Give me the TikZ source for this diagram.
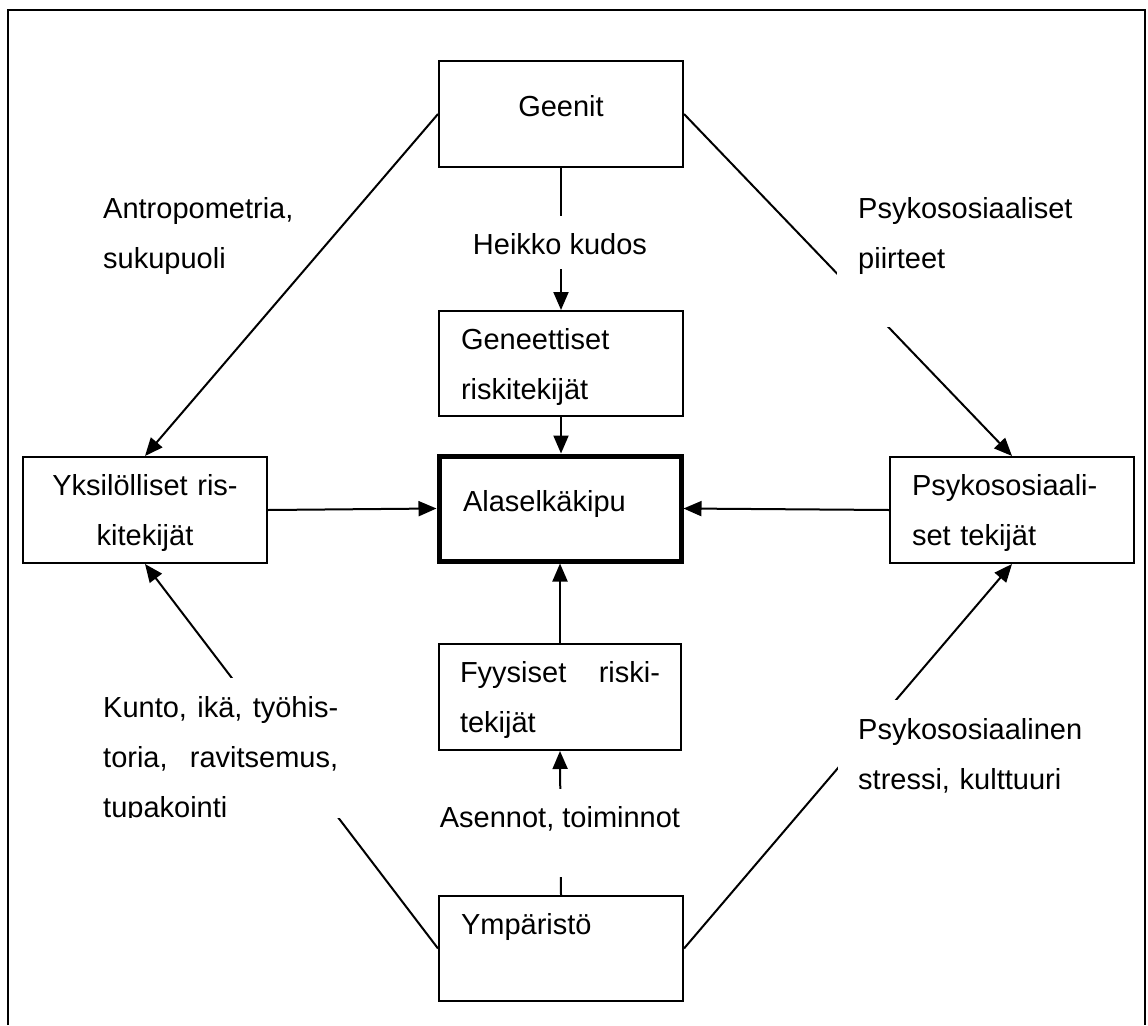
\documentclass[tikz,border=0pt]{standalone}
\usepackage{fontspec}
\setmainfont{Liberation Sans}
\usetikzlibrary{arrows.meta}
\tikzset{
	box/.style={draw, line width=2pt, inner ysep=0pt, inner xsep=22pt, text width=200pt, anchor=north west},
	mainbox/.style={box, line width=5pt},
	lbl/.style={inner ysep=0pt, inner xsep=8pt, text width=240pt, align=left, anchor=north west},
	gap/.style={fill=white},
	link/.style={line width=2pt},
	arr/.style={link, -{Triangle[length=18pt,width=15pt]}}
}
\begin{document}
\begin{tikzpicture}[x=1pt, y=-1pt, font=\fontsize{29}{50}\selectfont]
			\useasboundingbox (0,0) rectangle (1148,1025);
			\draw[line width=1.6pt] (8,1025) |- (1145,10) -- (1145,1025);
			\node (geenit) [box, align=center, text height=55pt, text depth=51pt] at (438,60) {Geenit};
			\node (geneet) [box, align=left, text height=38pt, text depth=67pt] at (438,310) {Geneettiset\\riskitekijät};
			\node (alasel) [mainbox, align=left, inner xsep=24pt, text width=194pt, text height=55pt, text depth=50pt] at (436.5,453.5) {Alaselkäkipu};
			\node (yksil) [box, align=center, text height=38pt, text depth=68pt] at (22,456) {Yksilölliset ris-\\kitekijät};
			\node (psyko) [box, align=left, text height=38pt, text depth=68pt] at (889,456) {Psykososiaali-\\set tekijät};
			\node (fyys) [box, align=justify, inner xsep=21pt, text height=38pt, text depth=68pt] at (438,643) {\makebox[200pt][s]{Fyysiset riski-}\\tekijät};
			\node (ympar) [box, align=left, text height=38pt, text depth=67pt] at (438,895) {Ympäristö};
			\draw[arr] (geenit.south) -- (geneet.north);
			\draw[arr] (geneet.south) -- (geneet.south |- alasel.north);
			\draw[arr] (yksil.east) -- (alasel.west);
			\draw[arr] (psyko.west) -- (alasel.east);
			\draw[arr] (fyys.north) -- (fyys.north |- alasel.south);
			\draw[arr] (ympar.north) -- (fyys.south);
			\draw[arr] (geenit.west) -- (yksil.north);
			\draw[arr] (geenit.east) -- (psyko.north);
			\draw[arr] (ympar.west) -- (yksil.south);
			\draw[arr] (ympar.east) -- (psyko.south);
			\node (heikko) [gap, inner sep=0pt, inner xsep=4pt, text height=38pt, text depth=15pt, anchor=north] at (560,216) {Heikko kudos};
			\node (asennot) [gap, inner sep=0pt, inner xsep=4pt, text height=38pt, text depth=50pt, anchor=north] at (560,789) {Asennot, toiminnot};
			\node (antro) [lbl, text height=40pt, text depth=109pt] at (95,178) {Antropometria,\\sukupuoli};
			\node (piirt) [lbl, gap, inner xsep=21pt, text height=40pt, text depth=109pt] at (837,178) {Psykososiaaliset\\piirteet};
			\begin{scope}
				\clip (90,670) rectangle (350,817);
				\node (kunto) [lbl, gap, align=justify, text width=235pt, text height=39pt, text depth=108pt] at (95,678) {\makebox[235pt][s]{Kunto, ikä, työhis-}\\\makebox[235pt][s]{toria, ravitsemus,}\\tupakointi};
			\end{scope}
			\node (stress) [lbl, gap, inner xsep=20pt, text height=39pt, text depth=109pt] at (838,700) {Psykososiaalinen\\stressi, kulttuuri};
		\end{tikzpicture}
\end{document}
